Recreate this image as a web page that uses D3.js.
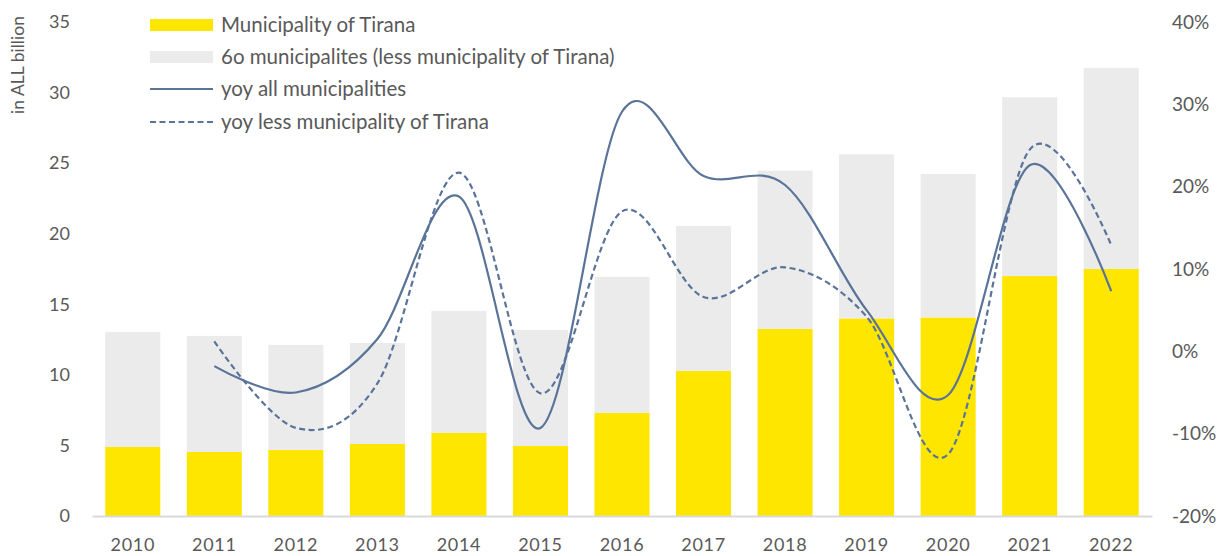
<!DOCTYPE html>
<html>
<head>
<meta charset="utf-8">
<script src="https://cdn.jsdelivr.net/npm/d3@7"></script>
<style>
  html, body { margin: 0; padding: 0; background: #fff; }
  svg { display: block; }
  text { font-family: Lato, "Open Sans", sans-serif; fill: #595959; }
</style>
</head>
<body>
<svg id="chart" width="1228" height="556"></svg>
<script>
const years = ["2010","2011","2012","2013","2014","2015","2016","2017","2018","2019","2020","2021","2022"];
const tirana = [4.89, 4.54, 4.68, 5.10, 5.88, 4.96, 7.30, 10.28, 13.25, 14.0, 14.07, 17.0, 17.5];
const others = [8.15, 8.22, 7.44, 7.16, 8.65, 8.22, 9.64, 10.27, 11.22, 11.63, 10.17, 12.67, 14.25];
const yoyYears = ["2011","2012","2013","2014","2015","2016","2017","2018","2019","2020","2021","2022"];
const yoyAll = [-1.8, -5.0, 1.5, 18.8, -9.3, 29.1, 21.3, 20.2, 5.0, -5.3, 22.6, 7.3];
const yoyLess = [1.2, -9.3, -3.9, 21.7, -5.1, 17.0, 6.6, 10.2, 4.2, -12.5, 24.5, 12.9];
const leftTicks = [0, 5, 10, 15, 20, 25, 30, 35];
const rightTicks = [-20, -10, 0, 10, 20, 30, 40];
const legendLabels = ["Municipality of Tirana", "6o municipalites (less municipality of Tirana)", "yoy all municipalities", "yoy less municipality of Tirana"];

(function () {
const svg = d3.select("#chart");
const pTop = 22, pBottom = 516, pLeft = 92, pRight = 1152;
const yellow = "#FFE600", grey = "#EBEBEB", lineCol = "#5A7499";

const x = d3.scaleBand().domain(years).range([pLeft, pRight]).paddingInner(0.325).paddingOuter(0.1625);
const yL = d3.scaleLinear().domain([0, 35]).range([pBottom, pTop]);
const yR = d3.scaleLinear().domain([-20, 40]).range([pBottom, pTop]);

// bars
const g = svg.append("g");
g.selectAll("rect.t").data(years).enter().append("rect")
  .attr("x", d => x(d)).attr("width", x.bandwidth())
  .attr("y", (d, i) => yL(tirana[i])).attr("height", (d, i) => yL(0) - yL(tirana[i]))
  .attr("fill", yellow);
g.selectAll("rect.o").data(years).enter().append("rect")
  .attr("x", d => x(d)).attr("width", x.bandwidth())
  .attr("y", (d, i) => yL(tirana[i] + others[i])).attr("height", (d, i) => yL(tirana[i]) - yL(tirana[i] + others[i]))
  .attr("fill", grey);

// baseline axis
const xAxis = d3.axisBottom(x).tickSize(0).tickPadding(22);
const xg = svg.append("g").attr("transform", `translate(0,${pBottom})`).call(xAxis);
xg.select(".domain").attr("stroke", "#D9D9D9").attr("stroke-width", 2);
xg.selectAll("text").attr("font-size", 18).style("font-family", "Lato, sans-serif").attr("fill", "#595959").style("letter-spacing", "0.7px");

// left axis
const yLAxis = d3.axisLeft(yL).tickValues(leftTicks).tickSize(0).tickPadding(0);
const ylg = svg.append("g").attr("transform", `translate(70,0)`).call(yLAxis);
ylg.select(".domain").remove();
ylg.selectAll("text").attr("font-size", 18).style("font-family", "Lato, sans-serif").attr("fill", "#595959");

// right axis
const yRAxis = d3.axisRight(yR).tickValues(rightTicks).tickSize(0).tickPadding(0).tickFormat(d => d + "%");
const yrg = svg.append("g").attr("transform", `translate(1172,0)`).call(yRAxis);
yrg.select(".domain").remove();
yrg.selectAll("text").attr("font-size", 19).style("font-family", "Lato, sans-serif").attr("fill", "#595959");

// y axis title
svg.append("text").attr("transform", "translate(24,65) rotate(-90)")
  .attr("text-anchor", "middle").attr("font-size", 17.5).text("in ALL billion");

// lines
const line = d3.line()
  .x((d, i) => x(yoyYears[i]) + x.bandwidth() / 2)
  .y(d => yR(d))
  .curve(d3.curveCatmullRom.alpha(0));
svg.append("path").datum(yoyAll).attr("d", line)
  .attr("fill", "none").attr("stroke", lineCol).attr("stroke-width", 2.2);
svg.append("path").datum(yoyLess).attr("d", line)
  .attr("fill", "none").attr("stroke", lineCol).attr("stroke-width", 2.2).attr("stroke-dasharray", "6,3.5");

// legend
const lg = svg.append("g");
const rowY = [25, 57, 89, 122];
const sx0 = 150, sx1 = 213;
lg.append("rect").attr("x", sx0).attr("y", rowY[0] - 6).attr("width", sx1 - sx0).attr("height", 12).attr("fill", yellow);
lg.append("rect").attr("x", sx0).attr("y", rowY[1] - 6).attr("width", sx1 - sx0).attr("height", 12).attr("fill", grey);
lg.append("line").attr("x1", sx0).attr("x2", sx1).attr("y1", rowY[2]).attr("y2", rowY[2]).attr("stroke", lineCol).attr("stroke-width", 2.2);
lg.append("line").attr("x1", sx0).attr("x2", sx1).attr("y1", rowY[3]).attr("y2", rowY[3]).attr("stroke", lineCol).attr("stroke-width", 2.2).attr("stroke-dasharray", "6,3.5");
lg.selectAll("text.leg").data(legendLabels).enter().append("text")
  .attr("x", 221).attr("y", (d, i) => rowY[i]).attr("dy", "0.35em")
  .attr("font-size", 20.5).text(d => d);
})();
</script>
</body>
</html>
